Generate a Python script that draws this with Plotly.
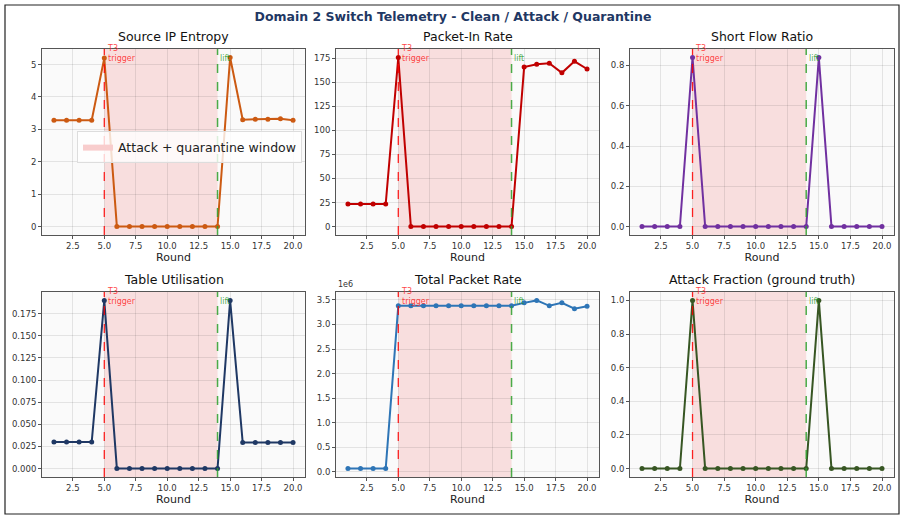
import plotly.graph_objects as go

# === Data ===
ROUNDS = list(range(1, 21))
ENTROPY = [3.28, 3.28, 3.28, 3.28, 5.20, 0, 0, 0, 0, 0, 0, 0, 0, 0, 5.22, 3.30, 3.31, 3.31, 3.33, 3.28]
PACKET_IN = [23.5, 23.5, 23.5, 23.5, 176, 0, 0, 0, 0, 0, 0, 0, 0, 0, 166, 169, 170, 160, 172, 164]
SHORT_FLOW = [0, 0, 0, 0, 0.84, 0, 0, 0, 0, 0, 0, 0, 0, 0, 0.84, 0, 0, 0, 0, 0]
TABLE_UTIL = [0.030, 0.030, 0.030, 0.030, 0.190, 0, 0, 0, 0, 0, 0, 0, 0, 0, 0.190, 0.0295, 0.0295, 0.0295, 0.0295, 0.0295]
TOTAL_RATE = [0.068e6, 0.068e6, 0.068e6, 0.068e6, 3.38e6, 3.38e6, 3.38e6, 3.38e6, 3.38e6, 3.38e6, 3.38e6, 3.38e6,
              3.38e6, 3.38e6, 3.44e6, 3.49e6, 3.38e6, 3.44e6, 3.32e6, 3.37e6]
ATTACK_FRAC = [0, 0, 0, 0, 1.0, 0, 0, 0, 0, 0, 0, 0, 0, 0, 1.0, 0, 0, 0, 0, 0]

TRIGGER_ROUND = 5
LIFT_ROUND = 14

PANELS = [
    ("Source IP Entropy", ENTROPY, "#cc5a12", [0, 1, 2, 3, 4, 5], None),
    ("Packet-In Rate", PACKET_IN, "#c00000", [0, 25, 50, 75, 100, 125, 150, 175], None),
    ("Short Flow Ratio", SHORT_FLOW, "#7030a0", [0, 0.2, 0.4, 0.6, 0.8], ["0.0", "0.2", "0.4", "0.6", "0.8"]),
    ("Table Utilisation", TABLE_UTIL, "#1f3864", [0, 0.025, 0.05, 0.075, 0.1, 0.125, 0.15, 0.175],
     ["0.000", "0.025", "0.050", "0.075", "0.100", "0.125", "0.150", "0.175"]),
    ("Total Packet Rate", TOTAL_RATE, "#2e75b6", [0, 0.5e6, 1e6, 1.5e6, 2e6, 2.5e6, 3e6, 3.5e6],
     ["0.0", "0.5", "1.0", "1.5", "2.0", "2.5", "3.0", "3.5"]),
    ("Attack Fraction (ground truth)", ATTACK_FRAC, "#375623", [0, 0.2, 0.4, 0.6, 0.8, 1.0],
     ["0.0", "0.2", "0.4", "0.6", "0.8", "1.0"]),
]

W, H = 906, 519
COL_PX = [(42, 305), (336, 599), (630, 894)]
ROW_PX = [(49, 235), (292, 477)]

fig = go.Figure()


def px_x(p):
    return p / W


def px_y(p):
    return 1 - p / H


for i, (title, vals, color, tvals, ttext) in enumerate(PANELS):
    r, c = divmod(i, 3)
    n = i + 1
    xa = "x" if n == 1 else f"x{n}"
    ya = "y" if n == 1 else f"y{n}"
    xkey = "xaxis" if n == 1 else f"xaxis{n}"
    ykey = "yaxis" if n == 1 else f"yaxis{n}"

    lo, hi = min(vals), max(vals)
    pad = (hi - lo) * 0.05
    fig.add_trace(go.Scatter(
        x=ROUNDS, y=vals, mode="lines+markers", xaxis=xa, yaxis=ya,
        line=dict(color=color, width=2), marker=dict(size=5, color=color),
        showlegend=False,
    ))

    axis_style = dict(
        showline=True, linecolor="#555555", linewidth=1, mirror=True,
        ticks="outside", ticklen=3, tickcolor="#555555",
        showgrid=True, gridcolor="rgba(0,0,0,0.09)", gridwidth=1, zeroline=False,
        tickfont=dict(size=8.5, color="#333333"),
    )
    fig.layout[xkey] = dict(
        domain=[px_x(COL_PX[c][0]), px_x(COL_PX[c][1])], anchor=ya,
        range=[0.05, 20.95], tickvals=[2.5, 5, 7.5, 10, 12.5, 15, 17.5, 20],
        ticktext=["2.5", "5.0", "7.5", "10.0", "12.5", "15.0", "17.5", "20.0"],
        title=dict(text="Round", font=dict(size=11, color="#222222"), standoff=3),
        **axis_style,
    )
    fig.layout[ykey] = dict(
        domain=[px_y(ROW_PX[r][1]), px_y(ROW_PX[r][0])], anchor=xa,
        range=[lo - pad, hi + pad], tickvals=tvals, ticktext=ttext,
        **axis_style,
    )

    # background
    fig.add_shape(type="rect", xref=f"{xa} domain", yref=f"{ya} domain", x0=0, x1=1, y0=0, y1=1,
                  fillcolor="#fafafa", line_width=0, layer="below")
    # attack + quarantine window
    fig.add_shape(type="rect", xref=xa, yref=f"{ya} domain", x0=TRIGGER_ROUND, x1=LIFT_ROUND, y0=0, y1=1,
                  fillcolor="rgba(240,110,110,0.2)", line_width=0, layer="below")
    fig.add_shape(type="line", xref=xa, yref=f"{ya} domain", x0=TRIGGER_ROUND, x1=TRIGGER_ROUND, y0=0, y1=1,
                  line=dict(color="rgba(255,0,0,0.85)", width=1.3, dash="dash"))
    fig.add_shape(type="line", xref=xa, yref=f"{ya} domain", x0=LIFT_ROUND, x1=LIFT_ROUND, y0=0, y1=1,
                  line=dict(color="rgba(44,160,44,0.85)", width=1.5, dash="dash"))

    fig.add_annotation(xref=xa, yref=f"{ya} domain", x=TRIGGER_ROUND + 0.05, y=0.915,
                       text="T3<br>trigger", showarrow=False, xanchor="left", yanchor="bottom", align="left",
                       font=dict(size=8, color="rgba(255,30,30,0.85)"))
    fig.add_annotation(xref=xa, yref=f"{ya} domain", x=LIFT_ROUND + 0.05, y=0.915,
                       text="lift", showarrow=False, xanchor="left", yanchor="bottom",
                       font=dict(size=8, color="rgba(30,150,30,0.8)"))

    # subplot title
    top = ROW_PX[r][0]
    fig.add_annotation(xref="paper", yref="paper", x=(px_x(COL_PX[c][0]) + px_x(COL_PX[c][1])) / 2,
                       y=px_y(top - 3), text=title, showarrow=False, xanchor="center", yanchor="bottom",
                       font=dict(size=12.5, color="#111111"))

# 1e6 offset label on total packet rate
fig.add_annotation(xref="paper", yref="paper", x=px_x(COL_PX[1][0]), y=px_y(ROW_PX[1][0] - 1),
                   text="1e6", showarrow=False, xanchor="left", yanchor="bottom",
                   font=dict(size=8, color="#333333"))

# legend proxy
fig.add_trace(go.Scatter(x=[None], y=[None], mode="lines", fill="toself", name="Attack + quarantine window",
                         fillcolor="rgba(248,205,205,1)", line=dict(width=0, color="rgba(248,205,205,1)"),
                         xaxis="x", yaxis="y", showlegend=True))

# figure border
fig.add_shape(type="rect", xref="paper", yref="paper", x0=px_x(5), x1=px_x(899), y0=px_y(514), y1=px_y(5),
              line=dict(color="#222222", width=1.2), fillcolor="rgba(0,0,0,0)")

fig.update_layout(
    width=W, height=H,
    margin=dict(l=0, r=0, t=0, b=0),
    paper_bgcolor="white", plot_bgcolor="rgba(0,0,0,0)",
    font=dict(family="DejaVu Sans", color="#222222"),
    title=dict(text="<b>Domain 2 Switch Telemetry - Clean / Attack / Quarantine</b>",
               x=0.5, xanchor="center", y=px_y(17), yanchor="middle",
               font=dict(size=12.5, color="#1f3864")),
    legend=dict(x=px_x(77), y=px_y(131), xanchor="left", yanchor="top",
                bgcolor="rgba(255,255,255,0.8)", bordercolor="#dddddd", borderwidth=1,
                font=dict(size=12.5, color="#222222")),
)

fig.write_html("out.html", config={"displayModeBar": False},
               post_script="document.body.style.margin='0';")
